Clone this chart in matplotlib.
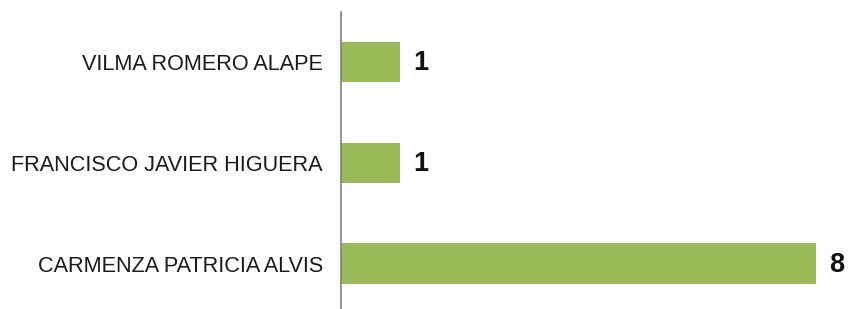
import matplotlib
matplotlib.use("Agg")
import matplotlib.pyplot as plt

categories = ["CARMENZA PATRICIA ALVIS", "FRANCISCO JAVIER HIGUERA", "VILMA ROMERO ALAPE"]
values = [8, 1, 1]

plt.rcParams['font.family'] = ['Liberation Sans', 'DejaVu Sans']

fig = plt.figure(figsize=(8.48, 3.09), dpi=100)
ax = fig.add_axes([341/848, 0, 505/848, 297/309])

ypos = list(range(len(categories)))
ax.barh(ypos, values, height=0.4, color='#9BBB59')
ax.set_xlim(0, 8.5)
ax.set_ylim(-0.45, 2.495)
ax.set_yticks(ypos)
ax.set_yticklabels(categories, fontsize=15.6, color='#1a1a1a')
ax.tick_params(axis='y', length=0, pad=13)
ax.set_xticks([])
for s in ['top', 'right', 'bottom']:
    ax.spines[s].set_visible(False)
ax.spines['left'].set_color('#808080')
ax.spines['left'].set_linewidth(1.2)

for y, v in zip(ypos, values):
    ax.annotate(str(v), xy=(v, y), xytext=(9, -1), textcoords='offset points',
                va='center', ha='left', fontsize=19.5, fontweight='bold', color='#111111')

fig.savefig('out.png', dpi=100)
